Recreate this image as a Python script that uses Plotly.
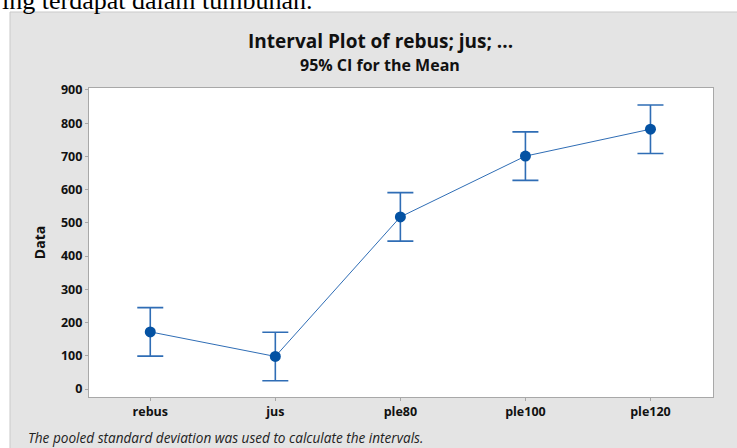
import plotly.graph_objects as go

# Group means and pooled 95% CI half-width
groups = ["rebus", "jus", "ple80", "ple100", "ple120"]
means = [172, 98, 518, 701, 782]
ci_half = [73, 73, 73, 73, 73]
y_ticks = [0, 100, 200, 300, 400, 500, 600, 700, 800, 900]

W, H = 737, 448
L, R, T, B = 89, 24, 88, 51
pw, ph = W - L - R, H - T - B


def px_x(x):
    return (x - L) / pw


def px_y(y):
    return (H - B - y) / ph


LABEL_FONT = "Open Sans"
line_blue = "#2f6db5"
marker_blue = "#0452a3"

fig = go.Figure()
fig.add_trace(go.Scatter(
    x=groups,
    y=means,
    mode="lines+markers",
    line=dict(color=line_blue, width=1),
    marker=dict(color=marker_blue, size=11),
    error_y=dict(type="data", array=ci_half, visible=True,
                 color=line_blue, thickness=1.6, width=13),
    showlegend=False,
    hoverinfo="x+y",
))

axis_common = dict(
    showline=True, mirror=True, linecolor="#a8a8a8", linewidth=1.2,
    ticks="outside", ticklen=3, tickcolor="#a8a8a8", tickwidth=1,
    showgrid=False, zeroline=False,
    tickfont=dict(family=LABEL_FONT, size=12.5, color="#111111", weight="bold"),
)

fig.update_layout(
    width=W, height=H,
    margin=dict(l=L, r=R, t=T, b=B),
    paper_bgcolor="white",
    plot_bgcolor="white",
    xaxis=dict(range=[-0.49, 4.5], **axis_common),
    yaxis=dict(range=[-24, 906], tickvals=y_ticks, **axis_common,
               title=dict(text="Data", standoff=12,
                          font=dict(family=LABEL_FONT, size=14,
                                    color="#111111", weight="bold"))),
    shapes=[
        # grey panel behind the whole chart
        dict(type="rect", xref="paper", yref="paper",
             x0=px_x(10), x1=px_x(740), y0=px_y(12), y1=px_y(452),
             fillcolor="#e4e4e4", line=dict(color="#c9c9c9", width=1),
             layer="below"),
        # white data region
        dict(type="rect", xref="paper", yref="paper",
             x0=0, x1=1, y0=0, y1=1,
             fillcolor="white", line=dict(width=0),
             layer="below"),
    ],
    annotations=[
        dict(text="Interval Plot of rebus; jus; ...", xref="paper", yref="paper",
             x=px_x(380), y=px_y(41), xanchor="center", yanchor="middle",
             showarrow=False,
             font=dict(family=LABEL_FONT, size=19, color="#111111", weight="bold")),
        dict(text="95% CI for the Mean", xref="paper", yref="paper",
             x=px_x(380), y=px_y(65), xanchor="center", yanchor="middle",
             showarrow=False,
             font=dict(family=LABEL_FONT, size=16, color="#111111", weight="bold")),
        dict(text="<i>The pooled standard deviation was used to calculate the intervals.</i>",
             xref="paper", yref="paper",
             x=px_x(26), y=px_y(437), xanchor="left", yanchor="middle",
             showarrow=False,
             font=dict(family=LABEL_FONT, size=13.6, color="#222222")),
        dict(text="ing terdapat dalam tumbuhan.", xref="paper", yref="paper",
             x=px_x(0), y=px_y(0), xanchor="left", yanchor="middle",
             showarrow=False,
             font=dict(family="Liberation Serif", size=26, color="#000000")),
    ],
)

fig.write_html("out.html")
